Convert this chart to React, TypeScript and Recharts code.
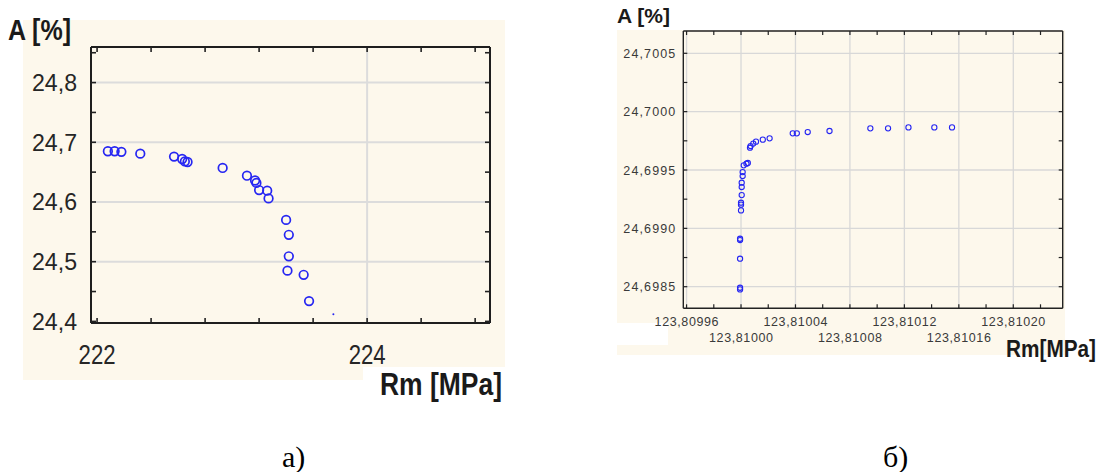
import React from "react";
import { ScatterChart, Scatter, XAxis, YAxis, ReferenceLine } from "recharts";

// ---- chart a) ----
const rmA = [
  222.08, 222.13, 222.18, 222.32, 222.57, 222.63, 222.65, 222.67, 222.93, 223.11, 223.17,
  223.18, 223.2, 223.26, 223.27, 223.4, 223.42, 223.42, 223.41, 223.53, 223.57,
];
const elongA = [
  24.685, 24.685, 24.684, 24.681, 24.676, 24.672, 24.668, 24.667, 24.657, 24.644, 24.636,
  24.632, 24.62, 24.619, 24.606, 24.57, 24.545, 24.509, 24.485, 24.478, 24.434,
];
const dotA = [{ x: 223.75, y: 24.412 }];
const xMajorA = [222, 224];
const xTicksA = [222, 222.4, 222.8, 223.2, 223.6, 224, 224.4, 224.8];
const yMajorA = [24.4, 24.5, 24.6, 24.7, 24.8];
const yTicksA = [24.4, 24.45, 24.5, 24.55, 24.6, 24.65, 24.7, 24.75, 24.8, 24.85];

// ---- chart б) ----
const rmB = [
  123.8099993, 123.8099993, 123.8099993, 123.8099993, 123.8099993, 123.81, 123.81, 123.81,
  123.8100005, 123.8100005, 123.8100005, 123.8100012, 123.8100012, 123.810002, 123.810004,
  123.810005, 123.8100066, 123.810007, 123.810009, 123.810011, 123.810016, 123.810021,
  123.810038, 123.810041, 123.810049, 123.810065, 123.810095, 123.810108, 123.810123,
  123.810142, 123.810155,
];
const elongB = [
  24.698477, 24.698491, 24.69874, 24.6989, 24.698911, 24.699154, 24.699203, 24.69922,
  24.699285, 24.699354, 24.699391, 24.699448, 24.699482, 24.69954, 24.699554, 24.69956,
  24.699691, 24.699705, 24.699726, 24.699743, 24.69976, 24.699771, 24.699814, 24.699814,
  24.699825, 24.699834, 24.699857, 24.699857, 24.699865, 24.699865, 24.699865,
];
const xMajorB = [123.80996, 123.81, 123.81004, 123.81008, 123.81012, 123.81016, 123.8102];
const xTicksB = [
  123.80996, 123.80998, 123.81, 123.81002, 123.81004, 123.81006, 123.81008, 123.8101,
  123.81012, 123.81014, 123.81016, 123.81018, 123.8102, 123.81022,
];
const yMajorB = [24.6985, 24.699, 24.6995, 24.7, 24.7005];
const yTicksB = [24.6985, 24.69875, 24.699, 24.69925, 24.6995, 24.69975, 24.7, 24.70025, 24.7005];

const pointsA = rmA.map((x, i) => ({ x, y: elongA[i] }));
const pointsB = rmB.map((x, i) => ({ x, y: elongB[i] }));

const SANS = "'Liberation Sans', Arial, sans-serif";
const BLUE = "#2626f2";
const CREAM = "#fdf8ec";

const comma = (v: number, d: number) => v.toFixed(d).replace(".", ",");

// chart a ticks (drawn inward, labels only on the major values)
const BottomTickA = (p: any) => {
  const major = xMajorA.includes(p.payload.value);
  return (
    <g>
      <line x1={p.x} x2={p.x} y1={p.y} y2={p.y - 5} stroke="#222" strokeWidth={1.6} />
      {major && (
        <text x={p.x} y={p.y + 41} textAnchor="middle" fontSize={27} fill="#262626"
          fontFamily={SANS} textLength={37} lengthAdjust="spacingAndGlyphs">
          {String(p.payload.value)}
        </text>
      )}
    </g>
  );
};
const LeftTickA = (p: any) => {
  const major = yMajorA.includes(p.payload.value);
  return (
    <g>
      <line x1={p.x} x2={p.x + 5} y1={p.y} y2={p.y} stroke="#222" strokeWidth={1.6} />
      {major && (
        <text x={p.x - 14} y={p.y + 8.5} textAnchor="end" fontSize={23} fill="#262626"
          fontFamily={SANS} textLength={45} lengthAdjust="spacingAndGlyphs">
          {comma(p.payload.value, 1)}
        </text>
      )}
    </g>
  );
};
const TopTickA = (p: any) => (
  <line x1={p.x} x2={p.x} y1={p.y} y2={p.y + 5} stroke="#222" strokeWidth={1.6} />
);
const RightTickA = (p: any) => (
  <line x1={p.x} x2={p.x - 5} y1={p.y} y2={p.y} stroke="#222" strokeWidth={1.6} />
);

// chart b ticks
const BottomTickB = (p: any) => {
  const idx = xMajorB.indexOf(p.payload.value);
  return (
    <g>
      <line x1={p.x} x2={p.x} y1={p.y} y2={p.y - 4} stroke="#222" strokeWidth={1.2} />
      {idx >= 0 && (
        <text x={p.x} y={p.y + (idx % 2 === 0 ? 18 : 34)} textAnchor="middle" fontSize={12.5}
          fill="#3a3a3a" fontFamily={SANS} textLength={64} lengthAdjust="spacing">
          {comma(p.payload.value, 5)}
        </text>
      )}
    </g>
  );
};
const LeftTickB = (p: any) => {
  const major = yMajorB.includes(p.payload.value);
  return (
    <g>
      <line x1={p.x} x2={p.x + 4} y1={p.y} y2={p.y} stroke="#222" strokeWidth={1.2} />
      {major && (
        <text x={p.x - 8} y={p.y + 4.5} textAnchor="end" fontSize={12.5} fill="#3a3a3a"
          fontFamily={SANS} textLength={52} lengthAdjust="spacing">
          {comma(p.payload.value, 4)}
        </text>
      )}
    </g>
  );
};
const TopTickB = (p: any) => (
  <line x1={p.x} x2={p.x} y1={p.y} y2={p.y + 4} stroke="#222" strokeWidth={1.2} />
);
const RightTickB = (p: any) => (
  <line x1={p.x} x2={p.x - 4} y1={p.y} y2={p.y} stroke="#222" strokeWidth={1.2} />
);

const ringA = (p: any) => (
  <circle cx={p.cx} cy={p.cy} r={4.3} fill="none" stroke={BLUE} strokeWidth={1.7} />
);
const tinyA = (p: any) => <circle cx={p.cx} cy={p.cy} r={1} fill={BLUE} />;
const ringB = (p: any) => (
  <circle cx={p.cx} cy={p.cy} r={2.6} fill="none" stroke={BLUE} strokeWidth={1.1} />
);

const domXA = [221.955, 224.91];
const domYA = [24.3973, 24.8596];
const domXB = [123.8099576, 123.8102363];
const domYB = [24.698315, 24.700691];

const ChartA = () => (
  <ScatterChart width={520} height={400} margin={{ top: 46, right: 29, bottom: 76, left: 90 }}>
    <XAxis type="number" dataKey="x" domain={domXA} allowDataOverflow ticks={xTicksA}
      interval={0} height={1} tickSize={0} tickMargin={0} tickLine={false} tick={<BottomTickA />}
      axisLine={{ stroke: "#1e1e1e", strokeWidth: 2 }} />
    <XAxis xAxisId="top" orientation="top" type="number" dataKey="x" domain={domXA} allowDataOverflow
      ticks={xTicksA} interval={0} height={1} tickSize={0} tickMargin={0} tickLine={false}
      tick={<TopTickA />} axisLine={{ stroke: "#1e1e1e", strokeWidth: 2 }} />
    <YAxis type="number" dataKey="y" domain={domYA} allowDataOverflow ticks={yTicksA}
      interval={0} width={1} tickSize={0} tickMargin={0} tickLine={false} tick={<LeftTickA />}
      axisLine={{ stroke: "#1e1e1e", strokeWidth: 2 }} />
    <YAxis yAxisId="right" orientation="right" type="number" dataKey="y" domain={domYA}
      allowDataOverflow ticks={yTicksA} interval={0} width={1} tickSize={0} tickMargin={0}
      tickLine={false} tick={<RightTickA />} axisLine={{ stroke: "#1e1e1e", strokeWidth: 2 }} />
    {yMajorA.slice(1).map((v) => (
      <ReferenceLine key={`h${v}`} y={v} stroke="#dcdcdc" strokeWidth={2} />
    ))}
    {xMajorA.slice(1).map((v) => (
      <ReferenceLine key={`v${v}`} x={v} stroke="#dcdcdc" strokeWidth={2} />
    ))}
    <Scatter data={pointsA} shape={ringA} isAnimationActive={false} />
    <Scatter data={dotA} shape={tinyA} isAnimationActive={false} />
  </ScatterChart>
);

const ChartB = () => (
  <ScatterChart width={513} height={380} margin={{ top: 30, right: 39.3, bottom: 70.7, left: 92.3 }}>
    <XAxis type="number" dataKey="x" domain={domXB} allowDataOverflow
      ticks={xTicksB} interval={0} height={1} tickSize={0} tickMargin={0} tickLine={false}
      tick={<BottomTickB />} axisLine={{ stroke: "#222", strokeWidth: 1.4 }} />
    <XAxis xAxisId="top" orientation="top" type="number" dataKey="x" domain={domXB}
      allowDataOverflow ticks={xTicksB} interval={0} height={1} tickSize={0} tickMargin={0}
      tickLine={false} tick={<TopTickB />} axisLine={{ stroke: "#222", strokeWidth: 1.4 }} />
    <YAxis type="number" dataKey="y" domain={domYB} allowDataOverflow ticks={yTicksB}
      interval={0} width={1} tickSize={0} tickMargin={0} tickLine={false} tick={<LeftTickB />}
      axisLine={{ stroke: "#222", strokeWidth: 1.4 }} />
    <YAxis yAxisId="right" orientation="right" type="number" dataKey="y" domain={domYB}
      allowDataOverflow ticks={yTicksB} interval={0} width={1} tickSize={0} tickMargin={0}
      tickLine={false} tick={<RightTickB />} axisLine={{ stroke: "#222", strokeWidth: 1.4 }} />
    {yMajorB.map((v) => (
      <ReferenceLine key={`h${v}`} y={v} stroke="#d8d8d8" strokeWidth={1.3} />
    ))}
    {xMajorB.map((v) => (
      <ReferenceLine key={`v${v}`} x={v} stroke="#d8d8d8" strokeWidth={1.3} />
    ))}
    <Scatter data={pointsB} shape={ringB} isAnimationActive={false} />
  </ScatterChart>
);

export default function App() {
  return (
    <div style={{ position: "absolute", left: 0, top: 0, width: 1103, height: 472, background: "#fff", overflow: "hidden" }}>
      {/* cream panels behind the plots */}
      <div style={{ position: "absolute", left: 23, top: 20, width: 482, height: 347, background: CREAM }} />
      <div style={{ position: "absolute", left: 23, top: 367, width: 340, height: 13, background: CREAM }} />
      <div style={{ position: "absolute", left: 617, top: 30, width: 448, height: 325, background: CREAM }} />
      <div style={{ position: "absolute", left: 617, top: 323, width: 51, height: 22, background: "#fff" }} />

      <div style={{ position: "absolute", left: 0, top: 0 }}>
        <ChartA />
      </div>
      <div style={{ position: "absolute", left: 590, top: 0 }}>
        <ChartB />
      </div>

      <svg width={1103} height={472} style={{ position: "absolute", left: 0, top: 0, pointerEvents: "none" }}>
        <text x={8} y={40} fontSize={30} fontWeight="bold" fontFamily={SANS} fill="#1a1a1a"
          textLength={63} lengthAdjust="spacingAndGlyphs">A [%]</text>
        <text x={380} y={395} fontSize={31} fontWeight="bold" fontFamily={SANS} fill="#1a1a1a"
          textLength={122} lengthAdjust="spacingAndGlyphs">Rm [MPa]</text>
        <text x={617} y={23} fontSize={20} fontWeight="bold" fontFamily={SANS} fill="#1a1a1a"
          textLength={53} lengthAdjust="spacingAndGlyphs">A [%]</text>
        <text x={1006} y={357} fontSize={24} fontWeight="bold" fontFamily={SANS} fill="#1a1a1a"
          textLength={90} lengthAdjust="spacingAndGlyphs">Rm[MPa]</text>
        <text x={282} y={467} fontSize={30} fontFamily="'Liberation Serif', 'Times New Roman', serif" fill="#000">а)</text>
        <text x={883} y={467} fontSize={30} fontFamily="'Liberation Serif', 'Times New Roman', serif" fill="#000">б)</text>
      </svg>
    </div>
  );
}
